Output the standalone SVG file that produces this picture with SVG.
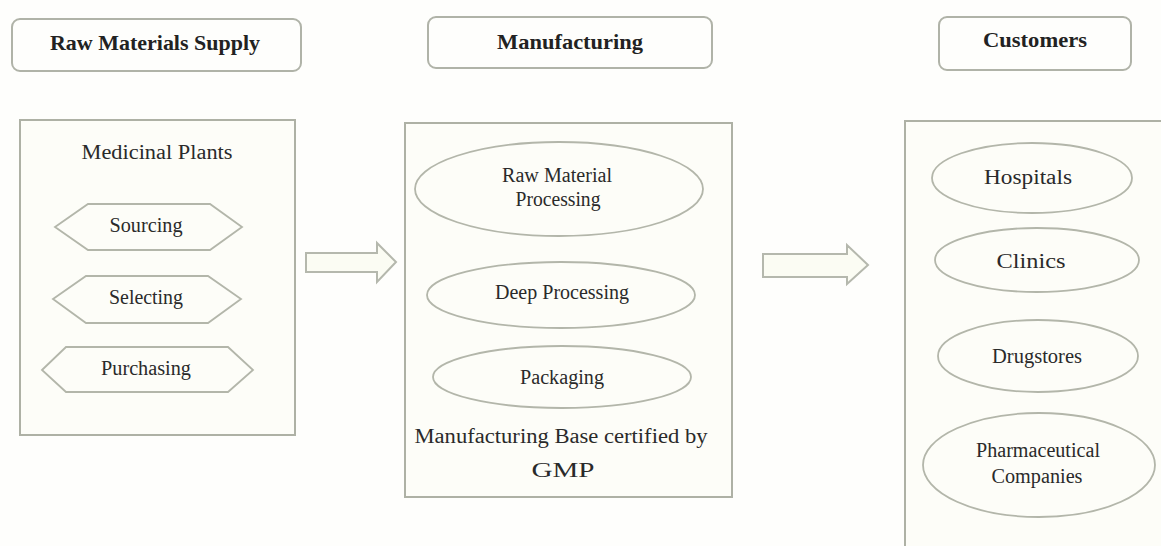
<svg xmlns="http://www.w3.org/2000/svg" width="1161" height="546" viewBox="0 0 1161 546">
<style>
.hdr{fill:#fefefc;stroke:#b0b3a8;stroke-width:2}
.box{fill:#fdfdf8;stroke:#aeb1a5;stroke-width:2}
.shape{fill:#fdfdf8;stroke:#b3b6aa;stroke-width:1.8}
.arrow{fill:#fbfcf3;stroke:#b5b8ad;stroke-width:2;stroke-linejoin:miter}
text{font-family:"Liberation Serif","Times New Roman",serif;fill:#2a2a2a;text-anchor:middle}
.h{font-size:21px;font-weight:bold;fill:#222}
.t{font-size:20px}
</style>
<rect width="1161" height="546" fill="#fefefc"/>
<g id="hdr-raw"><rect class="hdr" x="12" y="19" width="289" height="52" rx="8"/><text class="h" x="155" y="50" textLength="210" lengthAdjust="spacingAndGlyphs">Raw Materials Supply</text></g>
<g id="hdr-man"><rect class="hdr" x="428" y="17" width="284" height="51" rx="8"/><text class="h" x="570" y="49" textLength="146" lengthAdjust="spacingAndGlyphs">Manufacturing</text></g>
<g id="hdr-cust"><rect class="hdr" x="939" y="17" width="192" height="53" rx="8"/><text class="h" x="1035" y="47" textLength="104" lengthAdjust="spacingAndGlyphs">Customers</text></g>

<g id="raw-box"><rect class="box" x="20" y="120" width="275" height="315"/><text class="t" x="157" y="159" textLength="151" lengthAdjust="spacingAndGlyphs">Medicinal Plants</text></g>
<g id="sourcing"><polygon class="shape" points="55,227 88,204 210,204 242,227 210,250 88,250"/><text class="t" x="146" y="232" textLength="73" lengthAdjust="spacingAndGlyphs">Sourcing</text></g>
<g id="selecting"><polygon class="shape" points="53,299 86,276 208,276 241,299 208,323 86,323"/><text class="t" x="146" y="304" textLength="74" lengthAdjust="spacingAndGlyphs">Selecting</text></g>
<g id="purchasing"><polygon class="shape" points="42,370 66,347 228,347 253,370 228,392 66,392"/><text class="t" x="146" y="375" textLength="90" lengthAdjust="spacingAndGlyphs">Purchasing</text></g>

<g id="man-box"><rect class="box" x="405" y="123" width="327" height="374"/>
<text class="t" x="561" y="443" textLength="293" lengthAdjust="spacingAndGlyphs">Manufacturing Base certified by</text>
<text class="t" x="563" y="477" textLength="63" lengthAdjust="spacingAndGlyphs">GMP</text></g>
<g id="rmp"><ellipse class="shape" cx="559" cy="189" rx="144" ry="47"/><text class="t" x="557" y="182" textLength="110" lengthAdjust="spacingAndGlyphs">Raw Material</text><text class="t" x="558" y="206" textLength="85" lengthAdjust="spacingAndGlyphs">Processing</text></g>
<g id="deep"><ellipse class="shape" cx="561" cy="295" rx="134" ry="33"/><text class="t" x="562" y="299" textLength="134" lengthAdjust="spacingAndGlyphs">Deep Processing</text></g>
<g id="pack"><ellipse class="shape" cx="562" cy="377" rx="129" ry="31"/><text class="t" x="562" y="384" textLength="84" lengthAdjust="spacingAndGlyphs">Packaging</text></g>

<g id="cust-box"><rect class="box" x="905" y="121" width="270" height="440"/></g>
<g id="hospitals"><ellipse class="shape" cx="1032" cy="178" rx="100" ry="35"/><text class="t" x="1028" y="184" textLength="88" lengthAdjust="spacingAndGlyphs">Hospitals</text></g>
<g id="clinics"><ellipse class="shape" cx="1037" cy="260" rx="102" ry="32"/><text class="t" x="1031" y="268" textLength="69" lengthAdjust="spacingAndGlyphs">Clinics</text></g>
<g id="drugstores"><ellipse class="shape" cx="1038" cy="356" rx="100" ry="36"/><text class="t" x="1037" y="363" textLength="90" lengthAdjust="spacingAndGlyphs">Drugstores</text></g>
<g id="pharma"><ellipse class="shape" cx="1039" cy="465" rx="116" ry="52"/><text class="t" x="1038" y="457" textLength="124" lengthAdjust="spacingAndGlyphs">Pharmaceutical</text><text class="t" x="1037" y="483" textLength="91" lengthAdjust="spacingAndGlyphs">Companies</text></g>

<g id="connectors">
<polygon class="arrow" points="306,253 377,253 377,243 396,262 377,282 377,272 306,272"/>
<polygon class="arrow" points="763,254 847,254 847,245 868,265 847,284 847,277 763,277"/>
</g>
</svg>
